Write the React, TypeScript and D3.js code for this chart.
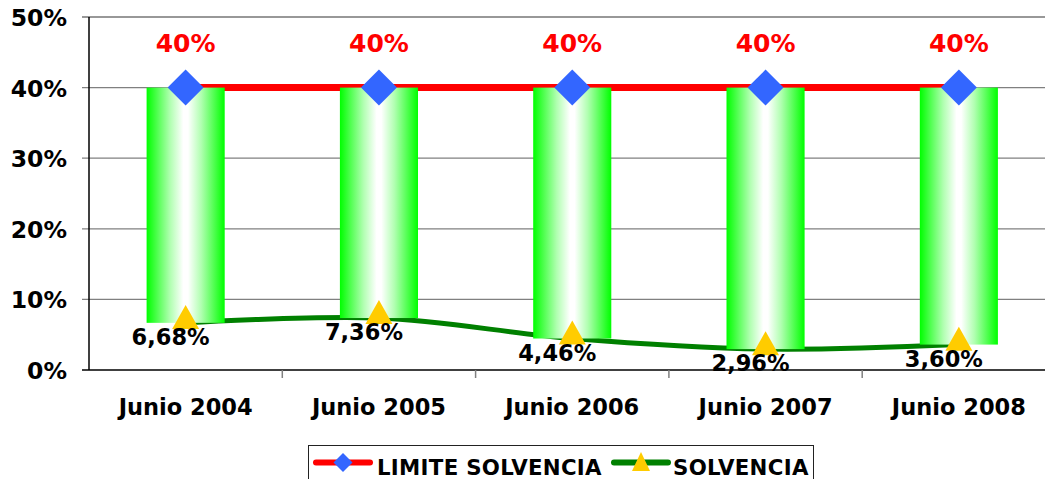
import React from "react";
import * as d3 from "d3";

const categories = ["Junio 2004", "Junio 2005", "Junio 2006", "Junio 2007", "Junio 2008"];
const limiteSolvencia = [40, 40, 40, 40, 40];
const solvencia = [6.68, 7.36, 4.46, 2.96, 3.6];
const yTicks = [0, 10, 20, 30, 40, 50];
const seriesNames = ["LIMITE SOLVENCIA", "SOLVENCIA"];

const W = 1045;
const H = 479;
const FONT = "'DejaVu Sans', Verdana, sans-serif";

export default function App() {
  const x = d3.scaleBand<string>().domain(categories).range([89, 1055.5]).padding(0);
  const y = d3.scaleLinear().domain([0, 50]).range([370, 17]);
  const cx = (c: string) => (x(c) as number) + x.bandwidth() / 2;
  const barW = x.bandwidth() * 0.404;

  const redLine = d3
    .line<number>()
    .x((_, i) => cx(categories[i]))
    .y((d) => y(d))(limiteSolvencia) as string;
  const greenLine = d3
    .line<number>()
    .x((_, i) => cx(categories[i]))
    .y((d) => y(d))
    .curve(d3.curveCardinal.tension(0))(solvencia) as string;

  const diamond = (px: number, py: number, r: number) =>
    `M${px},${py - r}L${px + r},${py}L${px},${py + r}L${px - r},${py}Z`;
  const triangle = (px: number, py: number, w: number, h: number) =>
    `M${px},${py - h * 0.58}L${px + w / 2},${py + h * 0.42}L${px - w / 2},${py + h * 0.42}Z`;

  const fmt = (v: number) => v.toFixed(2).replace(".", ",") + "%";

  return (
    <svg
      width={W}
      height={H}
      style={{ position: "absolute", left: 0, top: 0, background: "#fff" }}
      fontFamily={FONT}
    >
      <defs>
        <linearGradient id="barGrad" x1="0" x2="1" y1="0" y2="0">
          <stop offset="0%" stopColor="#00FF00" />
          <stop offset="30%" stopColor="#B0FFB0" />
          <stop offset="47%" stopColor="#FFFFFF" />
          <stop offset="53%" stopColor="#FFFFFF" />
          <stop offset="70%" stopColor="#B0FFB0" />
          <stop offset="100%" stopColor="#00FF00" />
        </linearGradient>
      </defs>
      <rect x={0} y={0} width={W} height={H} fill="#fff" />

      {/* gridlines */}
      {yTicks.map((t) => (
        <line
          key={"g" + t}
          x1={82}
          x2={1056}
          y1={y(t)}
          y2={y(t)}
          stroke={t === 50 ? "#333" : t === 0 ? "#000" : "#808080"}
          strokeWidth={t === 0 ? 1.5 : 1.2}
        />
      ))}
      {/* y axis */}
      <line x1={89} x2={89} y1={y(50)} y2={y(0)} stroke="#000" strokeWidth={1.5} />
      {/* category ticks */}
      {categories.slice(1).map((c) => (
        <line key={"t" + c} x1={x(c)} x2={x(c)} y1={y(0)} y2={y(0) + 8} stroke="#808080" strokeWidth={1.5} />
      ))}

      {/* y labels */}
      {yTicks.map((t) => (
        <text key={"yl" + t} x={67} y={y(t) + 9} textAnchor="end" fontSize={23.5} fontWeight="bold" fill="#000">
          {t + "%"}
        </text>
      ))}

      {/* category labels */}
      {categories.map((c) => (
        <text key={"cl" + c} x={cx(c)} y={415} textAnchor="middle" fontSize={22.5} fontWeight="bold" fill="#000">
          {c}
        </text>
      ))}

      {/* lines */}
      <path d={redLine} fill="none" stroke="#FF0000" strokeWidth={7} />
      <path d={greenLine} fill="none" stroke="#008000" strokeWidth={5} />

      {/* bars */}
      {categories.map((c, i) => (
        <rect
          key={"b" + c}
          x={cx(c) - barW / 2}
          y={y(limiteSolvencia[i])}
          width={barW}
          height={y(solvencia[i]) - y(limiteSolvencia[i])}
          fill="url(#barGrad)"
        />
      ))}

      {/* markers */}
      {categories.map((c, i) => (
        <path key={"d" + c} d={diamond(cx(c), y(limiteSolvencia[i]), 18)} fill="#3366FF" />
      ))}
      {categories.map((c, i) => (
        <path key={"tr" + c} d={triangle(cx(c), y(solvencia[i]) - 4, 27, 24)} fill="#FFCC00" />
      ))}

      {/* labels */}
      {categories.map((c, i) => (
        <text key={"rl" + c} x={cx(c)} y={52} textAnchor="middle" fontSize={25} fontWeight="bold" fill="#FF0000">
          {limiteSolvencia[i] + "%"}
        </text>
      ))}
      {categories.map((c, i) => (
        <text
          key={"sl" + c}
          x={cx(c) - 15}
          y={y(solvencia[i]) + 22}
          textAnchor="middle"
          fontSize={22.5}
          fontWeight="bold"
          fill="#000"
        >
          {fmt(solvencia[i])}
        </text>
      ))}

      {/* legend */}
      <rect x={308.5} y={445.5} width={505} height={45} fill="#fff" stroke="#222" strokeWidth={1} />
      <line x1={316} x2={370} y1={462.5} y2={462.5} stroke="#FF0000" strokeWidth={6} strokeLinecap="round" />
      <path d={diamond(343, 462.5, 9.5)} fill="#3366FF" />
      <text x={377} y={475} fontSize={21.3} fontWeight="bold" fill="#000" letterSpacing={0.3}>
        {seriesNames[0]}
      </text>
      <line x1={614} x2={668} y1={462.5} y2={462.5} stroke="#008000" strokeWidth={6} strokeLinecap="round" />
      <path d={triangle(641, 463, 18, 19)} fill="#FFCC00" />
      <text x={673} y={475} fontSize={21.3} fontWeight="bold" fill="#000" letterSpacing={0.3}>
        {seriesNames[1]}
      </text>
    </svg>
  );
}
